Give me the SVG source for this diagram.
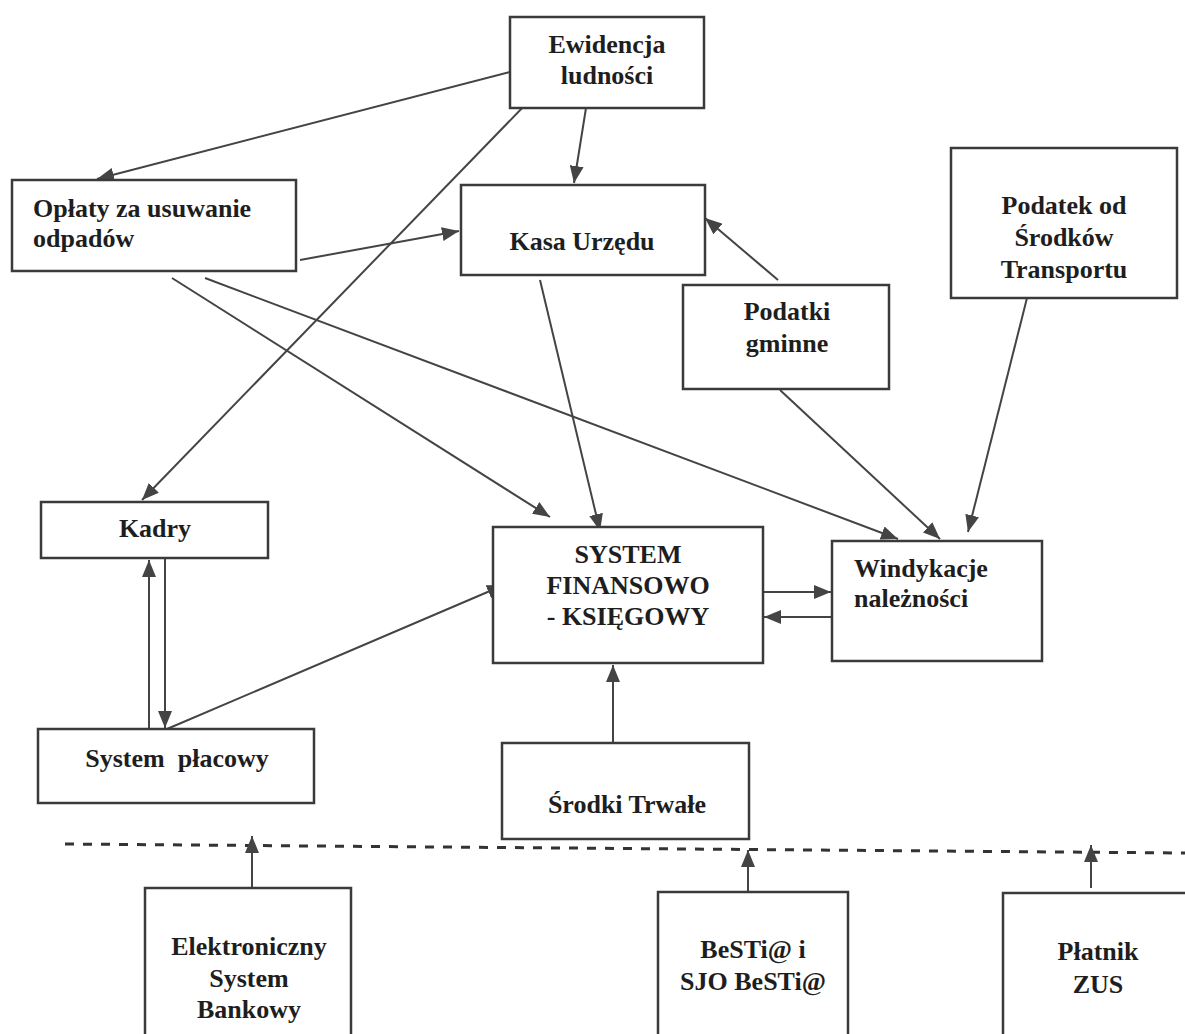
<svg xmlns="http://www.w3.org/2000/svg" width="1185" height="1034" viewBox="0 0 1185 1034">
<style>
.box{fill:#fff;stroke:#3a3a3a;stroke-width:2.5}
.t{font-family:"Liberation Serif","Times New Roman",serif;font-weight:bold;font-size:26px;fill:#1e1e1e}
.c{text-anchor:middle}
.ln{stroke:#444;stroke-width:2;fill:none}
.dash{stroke:#333;stroke-width:3;stroke-dasharray:9 9;fill:none}
</style>
<defs>
<marker id="ah" markerUnits="userSpaceOnUse" markerWidth="18" markerHeight="14" refX="17" refY="7" orient="auto">
<path d="M0,0 L17,7 L0,14 z" fill="#444"/>
</marker>
</defs>
<rect width="1185" height="1034" fill="#fff"/>

<g id="connectors">
<line class="ln" x1="510" y1="72" x2="97" y2="179" marker-end="url(#ah)"/>
<line class="ln" x1="526" y1="104" x2="142" y2="500" marker-end="url(#ah)"/>
<line class="ln" x1="586" y1="108" x2="574" y2="183" marker-end="url(#ah)"/>
<line class="ln" x1="300" y1="260" x2="459" y2="231" marker-end="url(#ah)"/>
<line class="ln" x1="172" y1="278" x2="550" y2="517" marker-end="url(#ah)"/>
<line class="ln" x1="205" y1="278" x2="898" y2="539" marker-end="url(#ah)"/>
<line class="ln" x1="540" y1="280" x2="600" y2="531" marker-end="url(#ah)"/>
<line class="ln" x1="778" y1="280" x2="705" y2="218" marker-end="url(#ah)"/>
<line class="ln" x1="780" y1="390" x2="940" y2="539" marker-end="url(#ah)"/>
<line class="ln" x1="1027" y1="298" x2="968" y2="532" marker-end="url(#ah)"/>
<line class="ln" x1="167" y1="729" x2="504" y2="585" marker-end="url(#ah)"/>
<line class="ln" x1="149" y1="729" x2="149" y2="560" marker-end="url(#ah)"/>
<line class="ln" x1="165" y1="558" x2="165" y2="728" marker-end="url(#ah)"/>
<line class="ln" x1="763" y1="592" x2="831" y2="592" marker-end="url(#ah)"/>
<line class="ln" x1="831" y1="617" x2="764" y2="617" marker-end="url(#ah)"/>
<line class="ln" x1="613" y1="743" x2="613" y2="665" marker-end="url(#ah)"/>
<line class="dash" x1="65" y1="844" x2="1185" y2="853"/>
<line class="ln" x1="252" y1="888" x2="252" y2="836" marker-end="url(#ah)"/>
<line class="ln" x1="748" y1="892" x2="748" y2="850" marker-end="url(#ah)"/>
<line class="ln" x1="1091" y1="888" x2="1091" y2="845" marker-end="url(#ah)"/>
</g>

<g id="ewidencja">
<rect class="box" x="510" y="17" width="194" height="91"/>
<text class="t c" x="607" y="53">Ewidencja</text>
<text class="t c" x="607" y="84">ludności</text>
</g>

<g id="oplaty">
<rect class="box" x="12" y="180" width="284" height="91"/>
<text class="t" x="33" y="217">Opłaty za usuwanie</text>
<text class="t" x="33" y="247">odpadów</text>
</g>

<g id="kasa">
<rect class="box" x="461" y="185" width="244" height="90"/>
<text class="t c" x="582" y="250">Kasa Urzędu</text>
</g>

<g id="transport">
<rect class="box" x="951" y="148" width="226" height="150"/>
<text class="t c" x="1064" y="214">Podatek od</text>
<text class="t c" x="1064" y="246">Środków</text>
<text class="t c" x="1064" y="278">Transportu</text>
</g>

<g id="podatki">
<rect class="box" x="683" y="285" width="206" height="104"/>
<text class="t c" x="787" y="320">Podatki</text>
<text class="t c" x="787" y="352">gminne</text>
</g>

<g id="kadry">
<rect class="box" x="41" y="502" width="227" height="56"/>
<text class="t c" x="155" y="537">Kadry</text>
</g>

<g id="system-fk">
<rect class="box" x="493" y="527" width="270" height="136"/>
<text class="t c" x="628" y="563">SYSTEM</text>
<text class="t c" x="628" y="594">FINANSOWO</text>
<text class="t c" x="628" y="625">- KSIĘGOWY</text>
</g>

<g id="windykacje">
<rect class="box" x="832" y="541" width="210" height="120"/>
<text class="t" x="854" y="577">Windykacje</text>
<text class="t" x="854" y="607">należności</text>
</g>

<g id="placowy">
<rect class="box" x="38" y="729" width="276" height="74"/>
<text class="t c" x="177" y="767" xml:space="preserve">System  płacowy</text>
</g>

<g id="srodki">
<rect class="box" x="502" y="743" width="247" height="96"/>
<text class="t c" x="627" y="813">Środki Trwałe</text>
</g>

<g id="esb">
<rect class="box" x="145" y="888" width="206" height="160"/>
<text class="t c" x="249" y="955">Elektroniczny</text>
<text class="t c" x="249" y="987">System</text>
<text class="t c" x="249" y="1018">Bankowy</text>
</g>

<g id="bestia">
<rect class="box" x="658" y="892" width="190" height="160"/>
<text class="t c" x="753" y="958">BeSTi@ i</text>
<text class="t c" x="753" y="990">SJO BeSTi@</text>
</g>

<g id="platnik">
<rect class="box" x="1003" y="893" width="200" height="160"/>
<text class="t c" x="1098" y="960">Płatnik</text>
<text class="t c" x="1098" y="993">ZUS</text>
</g>
</svg>
